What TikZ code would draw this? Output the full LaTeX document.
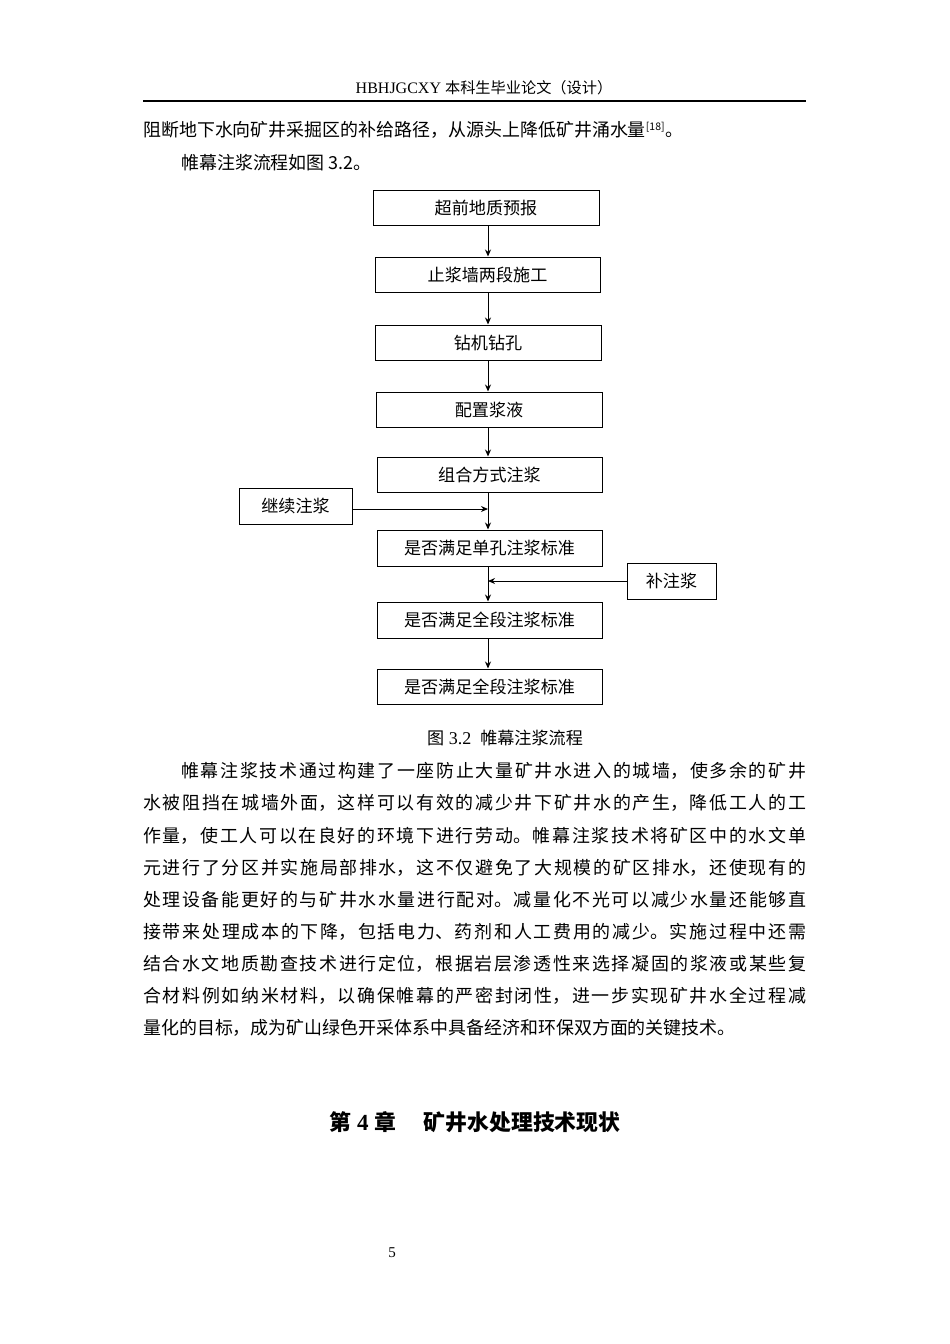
\documentclass[tikz,border=0pt]{standalone}
\usepackage{fontspec}
\setmainfont{Liberation Serif}
\newfontfamily\cjk{Noto Sans CJK SC}[Scale=0.95]
\usetikzlibrary{arrows.meta}
\XeTeXlinebreaklocale "zh"
\XeTeXlinebreakskip=0pt plus 3pt
\newcommand{\jl}[1]{\parfillskip=0pt #1\par}
\begin{document}
\begin{tikzpicture}[x=1pt,y=-1pt,
  fbox/.style={draw,line width=1pt,minimum height=35pt,inner sep=0pt,font=\cjk\fontsize{18}{20}\selectfont},
  arr/.style={line width=1pt,-{Stealth[length=7pt,width=6pt]}},
  txt/.style={anchor=west,inner sep=0pt,font=\fontsize{18.9}{20}\selectfont\cjk},
  jline/.style={anchor=west,inner sep=0pt,text width=#1,align=justify,font=\fontsize{18.9}{20}\selectfont\cjk}]
\useasboundingbox (0,0) rectangle (950,1344);
\fill[white] (0,0) rectangle (950,1344);
\node[inner sep=0pt,font=\fontsize{16}{18}\selectfont] (hdr) at (484,88) {HBHJGCXY {\cjk 本科生毕业论文（设计）}};
\draw[line width=1.5pt] (143,101) coordinate (hl) -- (806,101) coordinate (hr);
\node[txt] (l1) at (143,130) {阻断地下水向矿井采掘区的补给路径，从源头上降低矿井涌水量\textsuperscript{\fontsize{11}{12}\selectfont[18]}。};
\node[txt] (l2) at (181,163) {帷幕注浆流程如图 3.2。};
\coordinate (col) at (488,0);
\node[fbox,minimum width=226pt] (b1) at (486,207.5) {超前地质预报};
\node[fbox,minimum width=225pt] (b2) at (487.5,274.5) {止浆墙两段施工};
\node[fbox,minimum width=226pt] (b3) at (488,342.5) {钻机钻孔};
\node[fbox,minimum width=226pt] (b4) at (489,409.5) {配置浆液};
\node[fbox,minimum width=225pt] (b5) at (489.5,474.5) {组合方式注浆};
\node[fbox,minimum width=113pt,minimum height=36pt] (b6) at (295.5,506) {继续注浆};
\node[fbox,minimum width=225pt,minimum height=36pt] (b7) at (489.5,548) {是否满足单孔注浆标准};
\node[fbox,minimum width=89pt,minimum height=36pt] (b8) at (671.5,581) {补注浆};
\node[fbox,minimum width=225pt,minimum height=36pt] (b9) at (489.5,620) {是否满足全段注浆标准};
\node[fbox,minimum width=225pt] (b10) at (489.5,686.5) {是否满足全段注浆标准};
\draw[arr] (b1.south -| col) -- (b2.north -| col);
\draw[arr] (b2.south -| col) -- (b3.north -| col);
\draw[arr] (b3.south -| col) -- (b4.north -| col);
\draw[arr] (b4.south -| col) -- (b5.north -| col);
\draw[arr] (b5.south -| col) -- (b7.north -| col);
\draw[arr] (b7.south -| col) -- (b9.north -| col);
\draw[arr] (b9.south -| col) -- (b10.north -| col);
\draw[arr] (b6.east |- 0,509) -- (col |- 0,509);
\draw[arr] (b8.west |- 0,581) -- (col |- 0,581);
\node[inner sep=0pt,font=\fontsize{18}{20}\selectfont] (cap) at (505,738) {{\cjk 图} 3.2\ \ {\cjk 帷幕注浆流程}};
\node[jline=625pt] (p1) at (181,771) {\jl{帷幕注浆技术通过构建了一座防止大量矿井水进入的城墙，使多余的矿井}};
\node[jline=663pt] (p2) at (143,803) {\jl{水被阻挡在城墙外面，这样可以有效的减少井下矿井水的产生，降低工人的工}};
\node[jline=663pt] (p3) at (143,836) {\jl{作量，使工人可以在良好的环境下进行劳动。帷幕注浆技术将矿区中的水文单}};
\node[jline=663pt] (p4) at (143,868) {\jl{元进行了分区并实施局部排水，这不仅避免了大规模的矿区排水，还使现有的}};
\node[jline=663pt] (p5) at (143,900) {\jl{处理设备能更好的与矿井水水量进行配对。减量化不光可以减少水量还能够直}};
\node[jline=663pt] (p6) at (143,932) {\jl{接带来处理成本的下降，包括电力、药剂和人工费用的减少。实施过程中还需}};
\node[jline=663pt] (p7) at (143,964) {\jl{结合水文地质勘查技术进行定位，根据岩层渗透性来选择凝固的浆液或某些复}};
\node[jline=663pt] (p8) at (143,996) {\jl{合材料例如纳米材料，以确保帷幕的严密封闭性，进一步实现矿井水全过程减}};
\node[txt] (p9) at (143,1028) {量化的目标，成为矿山绿色开采体系中具备经济和环保双方面的关键技术。};
\node[inner sep=0pt,font=\fontsize{23}{26}\selectfont\bfseries] (h4) at (475,1122) {{\cjk\bfseries 第} 4 {\cjk\bfseries 章}\hspace{1.2em}{\cjk\bfseries 矿井水处理技术现状}};
\node[inner sep=0pt,font=\fontsize{15}{16}\selectfont] (pg) at (392,1253) {5};
\end{tikzpicture}
\end{document}
